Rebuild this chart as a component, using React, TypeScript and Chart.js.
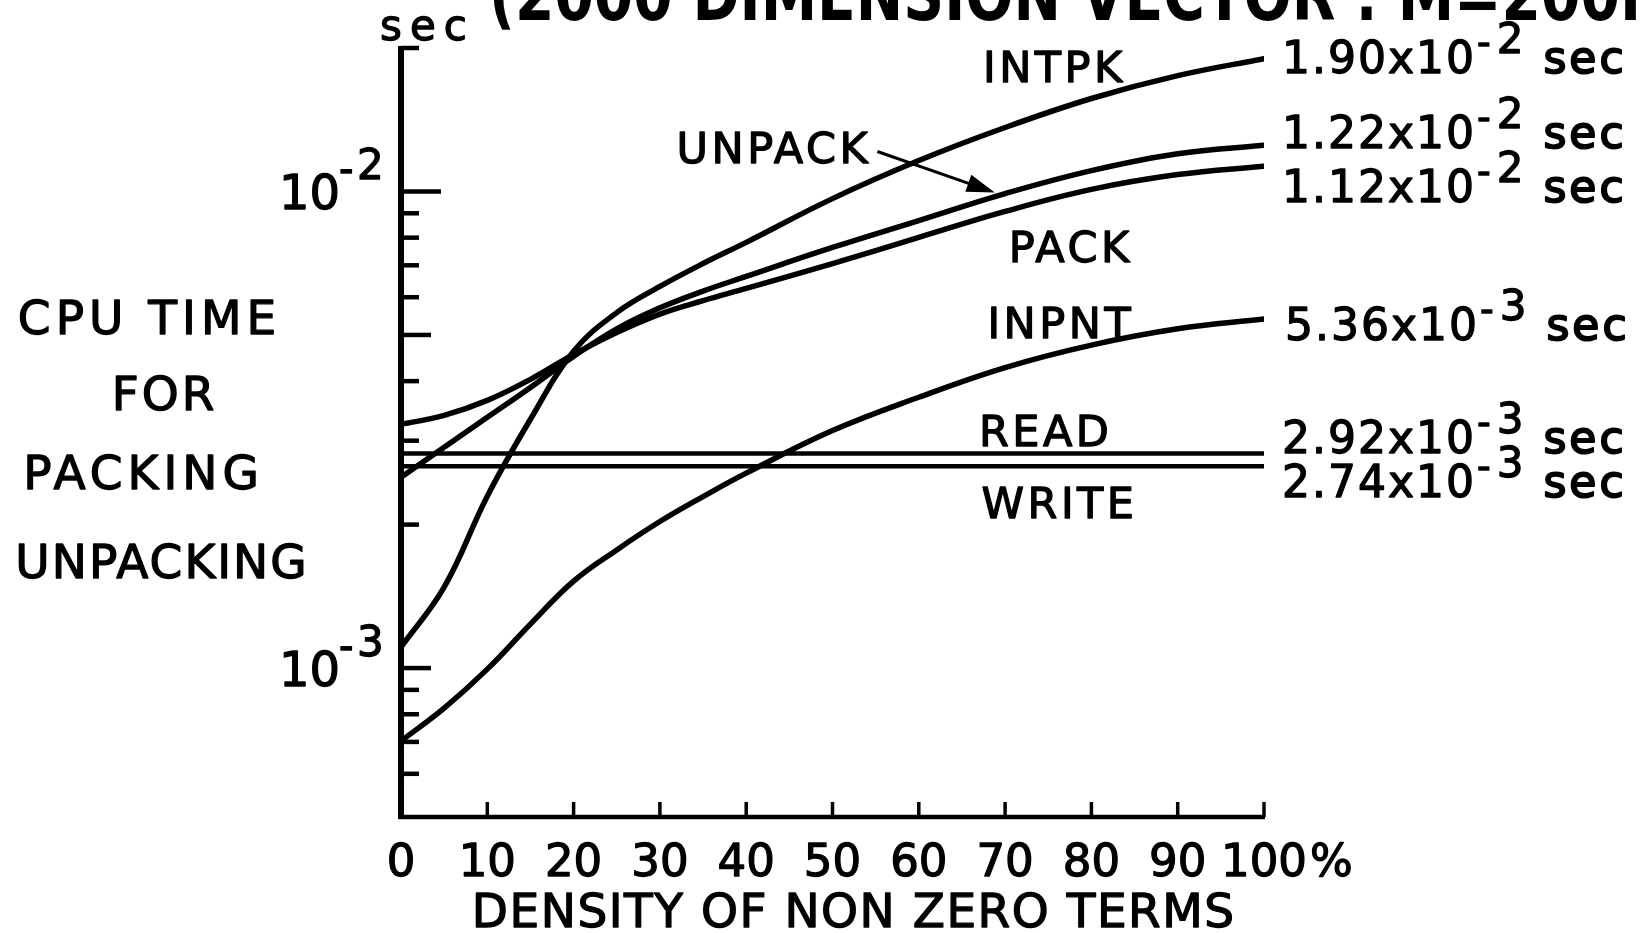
import React, { useEffect, useRef } from "react";
import { Chart, registerables } from "chart.js";

Chart.register(...registerables);

// ---------------- data ----------------
const density = [0, 5, 10, 15, 20, 25, 30, 35, 40, 50, 60, 70, 80, 90, 100];
const intpkTime = [1.107e-3, 1.478e-3, 2.294e-3, 3.327e-3, 4.62e-3, 5.57e-3, 6.32e-3, 7.06e-3, 7.82e-3, 9.66e-3, 1.161e-2, 1.362e-2, 1.567e-2, 1.75e-2, 1.9e-2];
const unpackTime = [2.514e-3, 2.906e-3, 3.358e-3, 3.88e-3, 4.508e-3, 5.15e-3, 5.70e-3, 6.18e-3, 6.635e-3, 7.63e-3, 8.69e-3, 9.9e-3, 1.106e-2, 1.2e-2, 1.25e-2];
const packTime = [3.246e-3, 3.39e-3, 3.645e-3, 4.035e-3, 4.55e-3, 5.06e-3, 5.53e-3, 5.90e-3, 6.26e-3, 7.06e-3, 8.01e-3, 9.08e-3, 1.01e-2, 1.085e-2, 1.13e-2];
const inpntTime = [7.03e-4, 8.24e-4, 9.95e-4, 1.237e-3, 1.522e-3, 1.77e-3, 2.03e-3, 2.29e-3, 2.565e-3, 3.15e-3, 3.7e-3, 4.27e-3, 4.76e-3, 5.15e-3, 5.4e-3];
const flatDensity = [0, 100];
const readTime = [2.82e-3, 2.82e-3];
const writeTime = [2.65e-3, 2.65e-3];

const seriesNames = ["INTPK", "UNPACK", "PACK", "INPNT", "READ", "WRITE"];
const endMantissas = ["1.90", "1.22", "1.12", "5.36", "2.92", "2.74"];
const endExponents = ["-2", "-2", "-2", "-3", "-3", "-3"];

const xTickValues = [10, 20, 30, 40, 50, 60, 70, 80, 90, 100];
const xLabelValues = [0, 10, 20, 30, 40, 50, 60, 70, 80, 90, 100];
const xLabelTexts = ["0", "10", "20", "30", "40", "50", "60", "70", "80", "90", "100"];
const yLongTicks = [1e-2];
const yMidTicks = [5e-3, 1e-3];
const yShortTicks = [6e-4, 7e-4, 8e-4, 9e-4, 2e-3, 3e-3, 4e-3, 6e-3, 7e-3, 8e-3, 9e-3, 2e-2];
const yLabelValues = [1e-2, 1e-3];
const yLabelExponents = ["-2", "-3"];

const titleText = "(2000 DIMENSION VECTOR : M=200H";
const yTitleLines = ["CPU TIME", "FOR", "PACKING", "UNPACKING"];
const xTitle = "DENSITY OF NON ZERO TERMS";

// ---------------- layout (positions / styles) ----------------
const INK = "#000";
const FONT = '"DejaVu Sans", "Noto Sans", sans-serif';
const TEXT_STROKE = 1.3;
// in-plot label centres, in data coordinates (x %, y sec)
const seriesLabelX = [75.5, 43.0, 77.4, 76.25, 74.5, 76.1];
const seriesLabelY = [1.828e-2, 1.236e-2, 7.67e-3, 5.31e-3, 3.155e-3, 2.228e-3];
const arrowFrom = { x: 55.2, y: 1.213e-2 };
const arrowTo = { x: 68.8, y: 9.95e-3 };
// right-hand value labels (pixel layout)
const endLabelLeft = [1282, 1282, 1282, 1285, 1282, 1282];
const endLabelBase = [73, 148, 202, 340, 453, 497];
const yTitleCx = [147, 163, 141, 161];
const yTitleBase = [334, 410, 489, 578];
const yTitleSpacing = [5, 3, 5, 2];

function setFont(ctx: CanvasRenderingContext2D, size: number, weight = "normal", spacing = 0) {
  ctx.font = `${weight} ${size}px ${FONT}`;
  (ctx as any).letterSpacing = `${spacing}px`;
}

function drawText(
  ctx: CanvasRenderingContext2D,
  s: string,
  x: number,
  y: number,
  size: number,
  align: CanvasTextAlign = "left",
  spacing = 0,
  weight = "normal",
  stroke = TEXT_STROKE
) {
  setFont(ctx, size, weight, spacing);
  ctx.textAlign = align;
  ctx.textBaseline = "alphabetic";
  const shift = align === "center" ? spacing / 2 : align === "right" ? spacing : 0;
  ctx.fillText(s, x + shift, y);
  if (stroke > 0) {
    ctx.lineWidth = stroke;
    ctx.lineJoin = "round";
    ctx.strokeText(s, x + shift, y);
  }
  return ctx.measureText(s).width;
}

const bgPlugin = {
  id: "whiteBg",
  beforeDraw(chart: any) {
    const ctx = chart.ctx as CanvasRenderingContext2D;
    ctx.save();
    ctx.fillStyle = "#fff";
    ctx.fillRect(0, 0, chart.width, chart.height);
    ctx.restore();
  },
};

const drawPlugin = {
  id: "paperAxes",
  afterDatasetsDraw(chart: any) {
    const ctx = chart.ctx as CanvasRenderingContext2D;
    const xs = chart.scales.x;
    const ys = chart.scales.y;
    const X = (v: number) => xs.getPixelForValue(v);
    const Y = (v: number) => ys.getPixelForValue(v);
    const x0 = X(0);
    const x100 = X(100);
    const yTop = Y(2e-2);
    const yBot = chart.chartArea.bottom;

    ctx.save();
    ctx.fillStyle = INK;
    ctx.strokeStyle = INK;
    ctx.lineCap = "butt";

    // y axis
    ctx.lineWidth = 6;
    ctx.beginPath();
    ctx.moveTo(x0, yTop - 2);
    ctx.lineTo(x0, yBot + 2);
    ctx.stroke();
    // x axis
    ctx.lineWidth = 4.5;
    ctx.beginPath();
    ctx.moveTo(x0 - 2, yBot);
    ctx.lineTo(x100 + 1, yBot);
    ctx.stroke();

    // y ticks (inside)
    ctx.lineWidth = 4.5;
    const tick = (v: number, len: number) => {
      const y = Y(v);
      ctx.beginPath();
      ctx.moveTo(x0, y);
      ctx.lineTo(x0 + len, y);
      ctx.stroke();
    };
    yLongTicks.forEach((v) => tick(v, 40));
    yMidTicks.forEach((v) => tick(v, 30));
    yShortTicks.forEach((v) => tick(v, 18));

    // x ticks (upward)
    ctx.lineWidth = 3.5;
    xTickValues.forEach((v) => {
      const x = X(v);
      ctx.beginPath();
      ctx.moveTo(x, yBot);
      ctx.lineTo(x, yBot - 15);
      ctx.stroke();
    });

    // y tick labels 10^-2, 10^-3
    yLabelValues.forEach((v, i) => {
      const base = Y(v) + 18;
      drawText(ctx, "10", 340, base, 48, "right", 0);
      drawText(ctx, "-", 339, base - 26, 40, "left", 0);
      drawText(ctx, yLabelExponents[i].replace("-", ""), 357, base - 30, 42, "left", 0);
    });
    // unit
    drawText(ctx, "sec", 380, 40, 42, "left", 8);

    // x tick labels
    xLabelValues.forEach((v, i) => {
      const x = X(v);
      const w = drawText(ctx, xLabelTexts[i], x, yBot + 59, 45, "center", 0);
      if (v === 100) drawText(ctx, "%", x + w / 2 + 3, yBot + 59, 45, "left", 0);
    });
    // x title
    drawText(ctx, xTitle, 853, 927, 47, "center", 1.5);

    // y title lines
    yTitleLines.forEach((s, i) => drawText(ctx, s, yTitleCx[i], yTitleBase[i], 47, "center", yTitleSpacing[i]));

    // in-plot series labels
    seriesNames.forEach((s, i) => {
      const size = 43;
      drawText(ctx, s, X(seriesLabelX[i]), Y(seriesLabelY[i]) + size * 0.364, size, "center", 3.5);
    });

    // arrow UNPACK -> curve
    {
      const ax = X(arrowFrom.x), ay = Y(arrowFrom.y);
      const bx = X(arrowTo.x), by = Y(arrowTo.y);
      const ang = Math.atan2(by - ay, bx - ax);
      const hl = 28, hw = 9;
      ctx.lineWidth = 3;
      ctx.beginPath();
      ctx.moveTo(ax, ay);
      ctx.lineTo(bx - Math.cos(ang) * hl * 0.8, by - Math.sin(ang) * hl * 0.8);
      ctx.stroke();
      ctx.beginPath();
      ctx.moveTo(bx, by);
      ctx.lineTo(bx - Math.cos(ang) * hl - Math.sin(ang) * hw, by - Math.sin(ang) * hl + Math.cos(ang) * hw);
      ctx.lineTo(bx - Math.cos(ang) * hl + Math.sin(ang) * hw, by - Math.sin(ang) * hl - Math.cos(ang) * hw);
      ctx.closePath();
      ctx.fill();
    }

    // right-hand value labels
    endMantissas.forEach((m, i) => {
      const left = endLabelLeft[i];
      const base = endLabelBase[i];
      const w = drawText(ctx, m + "x10", left, base, 44, "left", 2);
      const ex = left + w + 1;
      const dw = drawText(ctx, "-", ex, base - 18, 38, "left", 0);
      const d2 = drawText(ctx, endExponents[i].replace("-", ""), ex + dw + 6, base - 20, 42, "left", 0);
      drawText(ctx, "sec", ex + dw + 6 + d2 + 20, base, 44, "left", 3, "normal", 2);
    });

    // title (cut off at the top of the page)
    {
      setFont(ctx, 62, "bold", 0);
      const prefix = titleText.slice(0, -1);
      const wp = ctx.measureText(prefix).width;
      const sx = (1620 - 489) / wp;
      ctx.save();
      ctx.translate(489, 20);
      ctx.scale(sx, 1.15);
      ctx.textAlign = "left";
      ctx.textBaseline = "alphabetic";
      ctx.fillText(titleText, 0, 0);
      ctx.restore();
    }

    ctx.restore();
  },
};

function series(xs: number[], ys: number[]) {
  return xs.map((x, i) => ({ x, y: ys[i] }));
}

export default function App() {
  const ref = useRef<HTMLCanvasElement>(null);

  useEffect(() => {
    const lineStyle = {
      borderColor: INK,
      borderWidth: 5.5,
      pointRadius: 0,
      fill: false,
      tension: 0.4,
      borderCapStyle: "round" as const,
      borderJoinStyle: "round" as const,
    };
    const chart = new Chart(ref.current as HTMLCanvasElement, {
      type: "line",
      data: {
        datasets: [
          { label: seriesNames[0], data: series(density, intpkTime), ...lineStyle },
          { label: seriesNames[1], data: series(density, unpackTime), ...lineStyle },
          { label: seriesNames[2], data: series(density, packTime), ...lineStyle },
          { label: seriesNames[3], data: series(density, inpntTime), ...lineStyle },
          { label: seriesNames[4], data: series(flatDensity, readTime), ...lineStyle, borderWidth: 4.5, tension: 0 },
          { label: seriesNames[5], data: series(flatDensity, writeTime), ...lineStyle, borderWidth: 4.5, tension: 0 },
        ],
      },
      options: {
        responsive: false,
        animation: false,
        events: [],
        layout: { padding: { left: 401, right: 385, top: 48, bottom: 116 } },
        plugins: {
          legend: { display: false },
          tooltip: { enabled: false },
          title: { display: false },
        },
        scales: {
          x: { type: "linear", min: 0, max: 100, display: false },
          y: { type: "logarithmic", min: 4.87e-4, max: 2e-2, display: false },
        },
      },
      plugins: [bgPlugin, drawPlugin],
    });
    return () => chart.destroy();
  }, []);

  return (
    <div style={{ position: "fixed", left: 0, top: 0, width: 1649, height: 933, background: "#fff" }}>
      <canvas ref={ref} width={1649} height={933} style={{ display: "block", width: 1649, height: 933 }} />
    </div>
  );
}
